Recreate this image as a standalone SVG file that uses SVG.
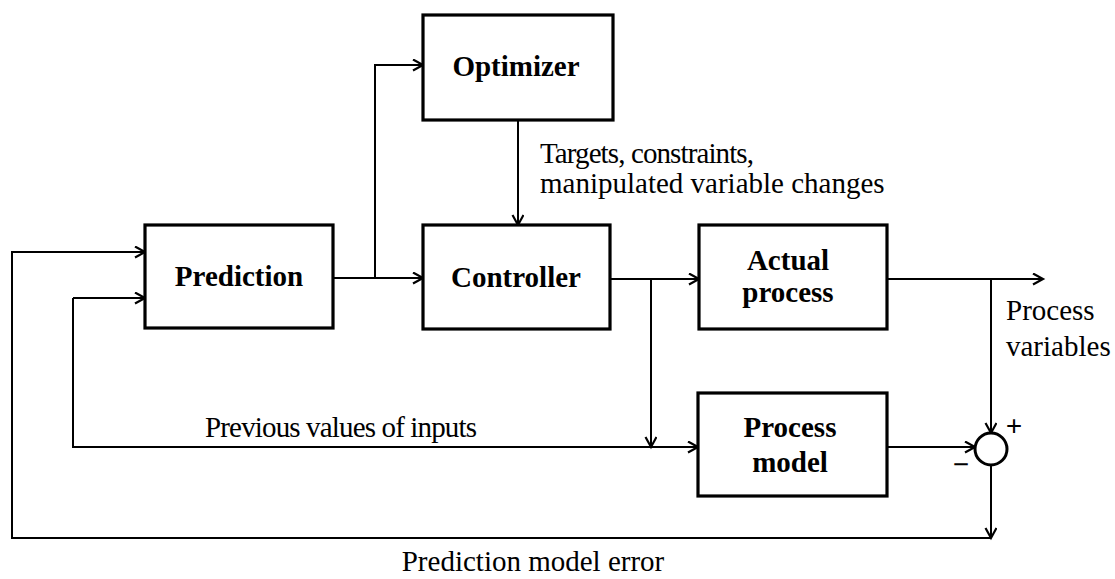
<svg xmlns="http://www.w3.org/2000/svg" width="1115" height="579" viewBox="0 0 1115 579">
<style>
.box{fill:#fff;stroke:#000;stroke-width:3.2}
.lbl{font-family:"Liberation Serif","Times New Roman",serif;font-weight:bold;font-size:29px;fill:#000;text-anchor:middle}
.txt{font-family:"Liberation Serif","Times New Roman",serif;font-size:29px;fill:#000}
.ln{fill:none;stroke:#000;stroke-width:2}
</style>
<defs>
<marker id="ah" markerUnits="userSpaceOnUse" markerWidth="14" markerHeight="14" refX="11" refY="6" orient="auto">
<path d="M1,0.5 L11,6 L1,11.5" fill="none" stroke="#000" stroke-width="2.2"/>
</marker>
</defs>
<rect width="1115" height="579" fill="#fff"/>
<g id="connectors">
<polyline class="ln" points="333,278 423,278" marker-end="url(#ah)"/>
<polyline class="ln" points="375,278 375,65 423,65" marker-end="url(#ah)"/>
<polyline class="ln" points="518,120 518,225" marker-end="url(#ah)"/>
<polyline class="ln" points="610,279 699,279" marker-end="url(#ah)"/>
<polyline class="ln" points="651,279 651,447" marker-end="url(#ah)"/>
<polyline class="ln" points="887,279 1043,279" marker-end="url(#ah)"/>
<polyline class="ln" points="991,279 991,433" marker-end="url(#ah)"/>
<polyline class="ln" points="887,447 975,447" marker-end="url(#ah)"/>
<polyline class="ln" points="73,298 73,447 698,447" marker-end="url(#ah)"/>
<polyline class="ln" points="73,298 145,298" marker-end="url(#ah)"/>
<polyline class="ln" points="991,465 991,538" marker-end="url(#ah)"/>
<polyline class="ln" points="991,538 12,538 12,252 145,252" marker-end="url(#ah)"/>
</g>
<g id="optimizer">
<rect class="box" x="423" y="15" width="190" height="105"/>
<text class="lbl" x="516" y="76">Optimizer</text>
</g>
<g id="prediction">
<rect class="box" x="145" y="225" width="188" height="103"/>
<text class="lbl" x="239" y="286">Prediction</text>
</g>
<g id="controller">
<rect class="box" x="423" y="225" width="187" height="104"/>
<text class="lbl" x="516" y="287">Controller</text>
</g>
<g id="actual-process">
<rect class="box" x="699" y="225" width="188" height="104"/>
<text class="lbl" x="788" y="270">Actual</text>
<text class="lbl" x="788" y="302">process</text>
</g>
<g id="process-model">
<rect class="box" x="698" y="393" width="189" height="103"/>
<text class="lbl" x="790" y="437">Process</text>
<text class="lbl" x="790" y="472">model</text>
</g>
<g id="sum">
<circle cx="991" cy="449" r="16" fill="#fff" stroke="#000" stroke-width="3"/>
<text class="txt" x="1014" y="436" text-anchor="middle" font-size="30" font-weight="bold">+</text>
<text class="txt" x="961" y="474" text-anchor="middle" font-size="30" font-weight="bold">−</text>
</g>
<g id="labels">
<text class="txt" x="540" y="163" textLength="214">Targets, constraints,</text>
<text class="txt" x="540" y="193">manipulated variable changes</text>
<text class="txt" x="1006" y="320">Process</text>
<text class="txt" x="1006" y="356">variables</text>
<text class="txt" x="205" y="437" textLength="272">Previous values of inputs</text>
<text class="txt" x="533" y="571" text-anchor="middle">Prediction model error</text>
</g>
</svg>
